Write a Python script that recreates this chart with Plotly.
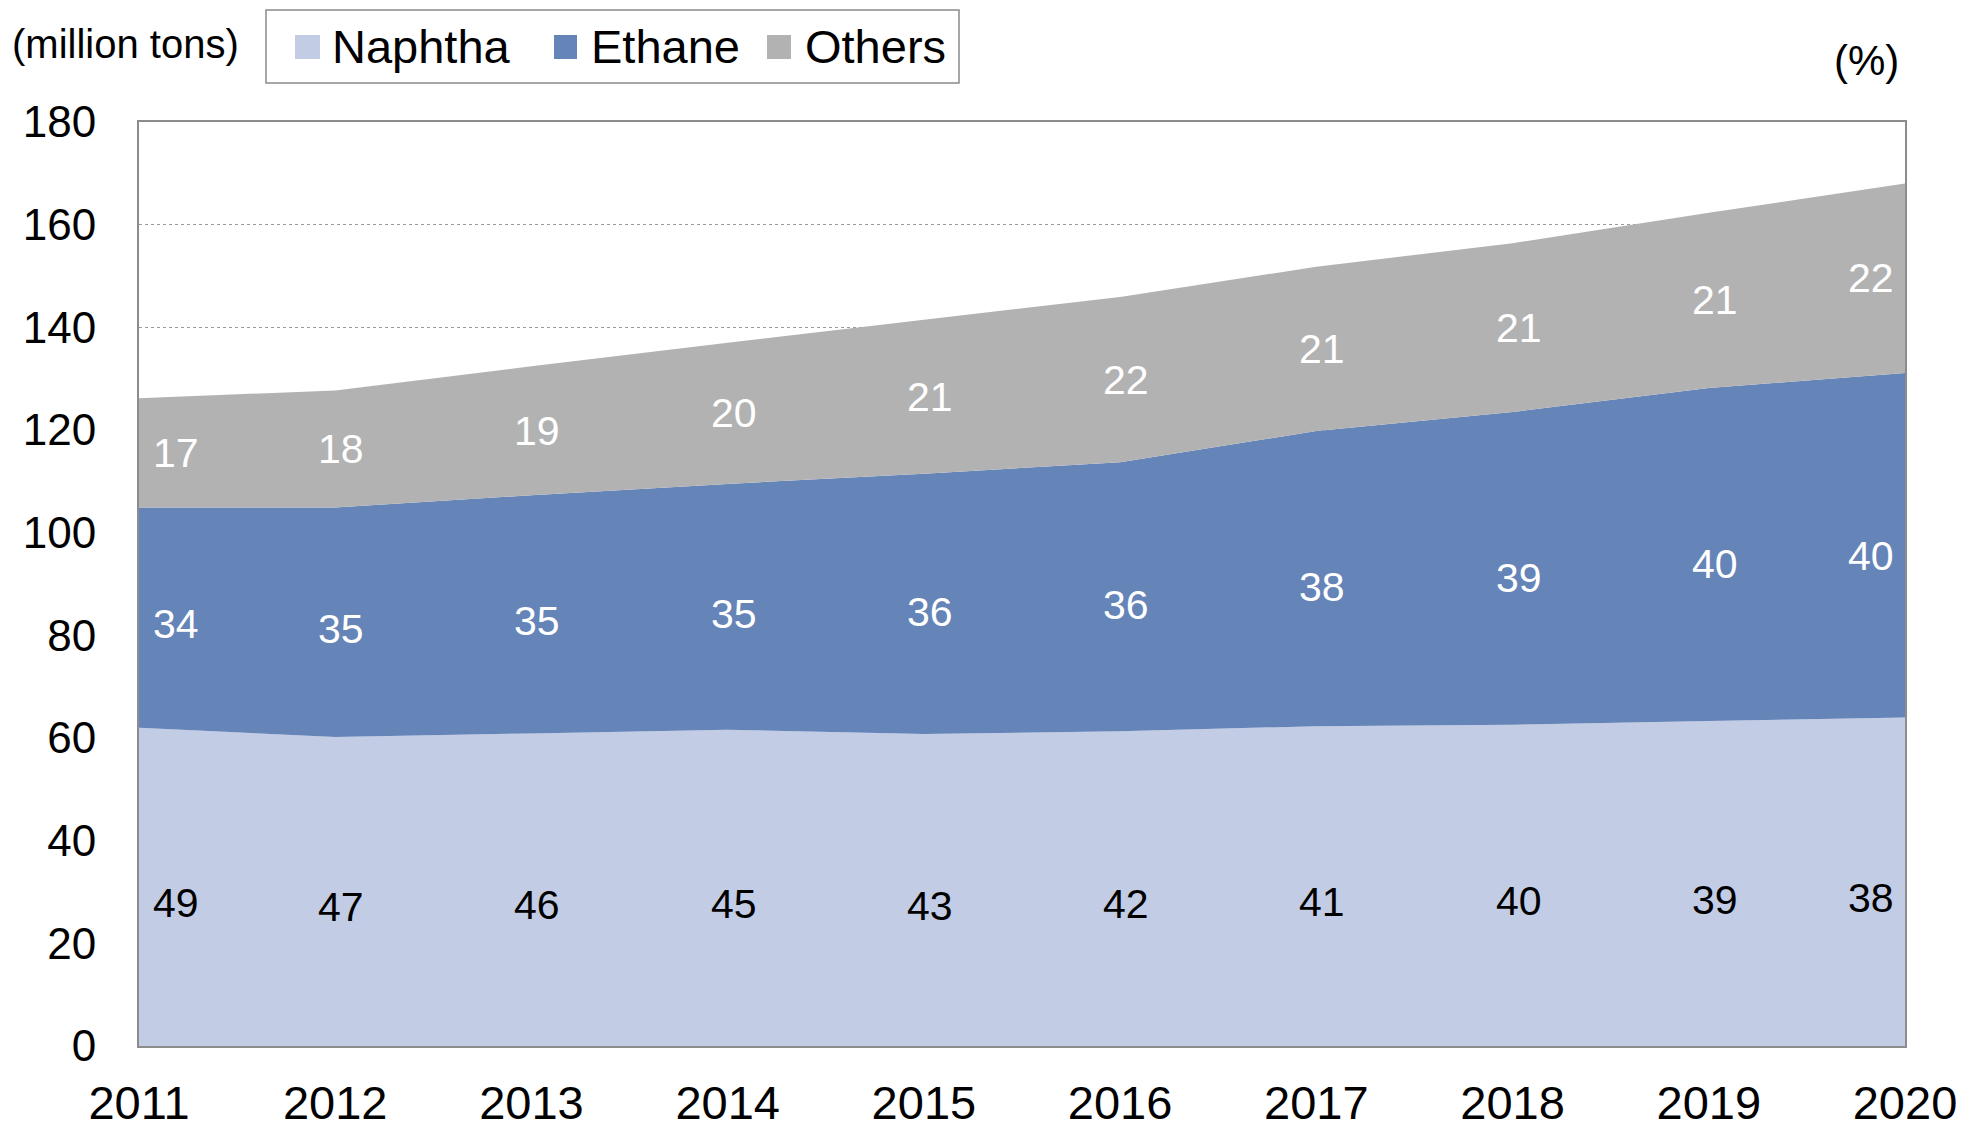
import plotly.graph_objects as go

years = [2011, 2012, 2013, 2014, 2015, 2016, 2017, 2018, 2019, 2020]
naphtha = [62.0, 60.2, 60.9, 61.6, 60.8, 61.3, 62.3, 62.6, 63.3, 64.0]
ethane = [42.9, 44.7, 46.4, 47.9, 50.7, 52.4, 57.5, 60.9, 64.9, 67.1]
others = [21.3, 22.8, 25.1, 27.5, 30.0, 32.2, 32.0, 32.9, 34.1, 36.9]

naphtha_pct = [49, 47, 46, 45, 43, 42, 41, 40, 39, 38]
ethane_pct = [34, 35, 35, 35, 36, 36, 38, 39, 40, 40]
others_pct = [17, 18, 19, 20, 21, 22, 21, 21, 21, 22]

series_names = ["Naphtha", "Ethane", "Others"]
y_ticks = [0, 20, 40, 60, 80, 100, 120, 140, 160, 180]

C_NAP = "#C2CCE4"
C_ETH = "#6584B8"
C_OTH = "#B2B2B2"
colors = [C_NAP, C_ETH, C_OTH]
FONT = "Liberation Sans, Arial, sans-serif"

# page body has an 8px default margin; compensate so the chart lands where the reference has it
OFF = 8
W, H = 1976 - OFF, 1131 - OFF
# plot area in page pixels: x 139..1905, y 122..1046
PL, PR, PT, PB = 139, 1905, 122, 1046
ML, MT = PL - OFF, PT - OFF
MR, MB = W - (PR - OFF), H - (PB - OFF)
PW, PH = PR - PL, PB - PT


def px(xp):
    return (xp - PL) / PW


def py(yp):
    return (PB - yp) / PH


fig = go.Figure()
for name, vals, col in zip(series_names, [naphtha, ethane, others], colors):
    fig.add_trace(go.Scatter(x=years, y=vals, name=name, stackgroup="one", mode="none",
                             fillcolor=col, line=dict(width=0), showlegend=False))

annotations = []
n = len(years)
for i, yr in enumerate(years):
    xs = 37 if i == 0 else (-34 if i == n - 1 else 6)
    base_e = naphtha[i]
    base_o = naphtha[i] + ethane[i]
    items = [
        (0.45 * naphtha[i], naphtha_pct[i], "black"),
        (base_e + 0.47 * ethane[i], ethane_pct[i], "white"),
        (base_o + 0.5 * others[i], others_pct[i], "white"),
    ]
    for yv, txt, col in items:
        annotations.append(dict(x=yr, y=yv, text=str(txt), showarrow=False, xshift=xs,
                                font=dict(family=FONT, size=41, color=col)))

annotations.append(dict(xref="paper", yref="paper", x=px(10), y=py(44), xanchor="left", yanchor="middle",
                        text="(million tons)", showarrow=False, font=dict(family=FONT, size=40, color="black")))
annotations.append(dict(xref="paper", yref="paper", x=px(1866), y=py(60), xanchor="center", yanchor="middle",
                        text="(%)", showarrow=False, font=dict(family=FONT, size=42, color="black")))

# legend (drawn as layout decoration)
shapes = [dict(type="rect", xref="paper", yref="paper", x0=px(266), x1=px(959), y0=py(83), y1=py(10),
               line=dict(color="#8a8a8a", width=1.5), fillcolor="white", layer="above")]
leg_sq = [(295, 320), (554, 577), (767, 791)]
leg_tx = [330, 589, 803]
for (a, b), t, name, col in zip(leg_sq, leg_tx, series_names, colors):
    shapes.append(dict(type="rect", xref="paper", yref="paper", x0=px(a), x1=px(b), y0=py(59), y1=py(35),
                       line=dict(width=0), fillcolor=col, layer="above"))
    annotations.append(dict(xref="paper", yref="paper", x=px(t), y=py(47), xanchor="left", yanchor="middle",
                            text=name, showarrow=False, font=dict(family=FONT, size=47, color="black")))

fig.update_layout(
    width=W, height=H,
    margin=dict(l=ML, r=MR, t=MT, b=MB, autoexpand=False),
    paper_bgcolor="white", plot_bgcolor="white",
    font=dict(family=FONT, size=44, color="black"),
    showlegend=False,
    annotations=annotations,
    shapes=shapes,
    xaxis=dict(range=[2011, 2020], tickmode="array", tickvals=years, ticktext=[str(y) for y in years],
               showgrid=False, showline=True, linecolor="#8c8c8c", linewidth=2, mirror=True,
               ticks="", ticklabelstandoff=15, tickfont=dict(size=47, family=FONT), zeroline=False,
               automargin=False),
    yaxis=dict(range=[0, 180], tickmode="array", tickvals=y_ticks, showgrid=True,
               gridcolor="#9a9a9a", griddash="dot", gridwidth=1,
               showline=True, linecolor="#8c8c8c", linewidth=2, mirror=True,
               ticks="", ticklabelstandoff=32, tickfont=dict(size=44, family=FONT), zeroline=False,
               automargin=False),
)

fig.write_html("out.html")
